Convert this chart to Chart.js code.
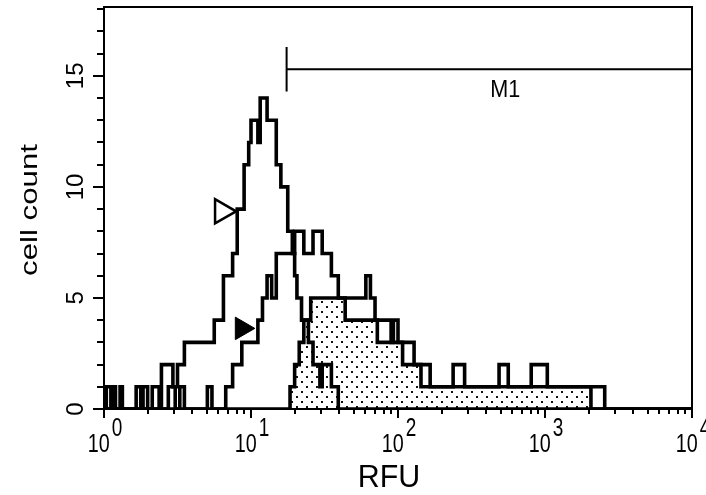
<!DOCTYPE html>
<html>
<head>
<meta charset="utf-8">
<script src="https://cdn.jsdelivr.net/npm/chart.js@4.4.1/dist/chart.umd.min.js"></script>
<style>
  html, body { margin: 0; padding: 0; background: #fff; }
  #wrap { width: 706px; height: 495px; }
</style>
</head>
<body>
<div id="wrap"><canvas id="histo" width="706" height="495"></canvas></div>
<script>
// log amp histograms, 256 channels over 4 decades (64 channels per decade)
// each step: count holds from that channel until the next one
const openCh     = [0, 1, 3, 4, 5, 7, 8, 10, 14, 16, 17, 19, 21, 24, 25, 30, 32, 35, 48, 52, 56, 58, 61, 63, 64, 67, 68, 71, 75, 77, 80, 82, 83, 84, 86, 89, 91, 94, 95, 99, 102, 256];
const openCount  = [0, 1, 0, 1, 0, 1, 0, 0, 1, 0, 1, 0, 1, 0, 2, 1, 2, 3, 4, 6, 7, 9, 11, 12, 13, 12, 14, 13, 11, 10, 8, 7, 6, 5, 4, 3, 2, 1, 2, 1, 0, 0];

const filledCh    = [0, 28, 31, 33, 35, 45, 47, 53, 56, 60, 67, 69, 71, 73, 75, 83, 87, 91, 95, 99, 102, 114, 116, 118, 125, 126, 128, 135, 142, 152, 157, 172, 176, 186, 193, 218, 256];
const filledCount = [0, 1, 0, 1, 0, 1, 0, 1, 2, 3, 4, 5, 6, 5, 7, 8, 7, 8, 7, 6, 5, 6, 5, 4, 3, 4, 3, 2, 1, 2, 1, 2, 1, 2, 1, 0, 0];

const dottedCh    = [0, 81, 83, 85, 87, 90, 105, 119, 130, 138, 212, 256];
const dottedCount = [0, 1, 2, 3, 4, 5, 4, 3, 2, 1, 0, 0];

// legend arrows sitting next to the curves
const openMarker   = { x: 51.4, y: 8.9 };
const filledMarker = { x: 60.0, y: 3.63 };

// M1 gate
const gateFrom = 79.5;
const gateTo = 256;
const gateLevel = 15.3;

// axes
const yMax = 18.1;
const yTickValues = [0, 1, 2, 3, 4, 5, 6, 7, 8, 9, 10, 11, 12, 13, 14, 15, 16, 17, 18];
const yLabelValues = [0, 5, 10, 15];
const xDecadeCh = [0, 64, 128, 192, 256];
const xDecadeExp = ['0', '1', '2', '3', '4'];
const minorOffsets = [19.3, 30.5, 38.5, 44.7, 49.8, 54.1, 57.8, 61.1]; // 64*log10(2..9)

const FONT = '"Liberation Sans", Arial, Helvetica, sans-serif';

function steps(ch, counts) {
    return ch.map((c, i) => ({ x: c, y: counts[i] }));
}

function dotPattern() {
    const c = document.createElement('canvas');
    c.width = 10; c.height = 10;
    const g = c.getContext('2d');
    g.fillStyle = '#111';
    g.fillRect(1, 1, 2, 2);
    g.fillRect(6, 6, 2, 2);
    return g.createPattern(c, 'repeat');
}

function txt(ctx, s, x, y, size, o) {
    o = o || {};
    ctx.save();
    ctx.translate(x, y);
    if (o.rot) ctx.rotate(o.rot);
    ctx.scale(o.sx || 1, 1);
    ctx.font = size + 'px ' + FONT;
    ctx.textAlign = o.align || 'center';
    ctx.textBaseline = 'alphabetic';
    ctx.fillStyle = '#000';
    ctx.fillText(s, 0, 0);
    ctx.restore();
}

const decor = {
    id: 'decor',
    afterDraw(chart) {
        const { ctx, chartArea: a } = chart;
        const x = chart.scales.x, y = chart.scales.y;
        ctx.save();
        ctx.strokeStyle = '#000';
        ctx.lineWidth = 2;
        ctx.strokeRect(a.left, a.top, a.right - a.left, a.bottom - a.top);

        // tick marks
        ctx.beginPath();
        y.ticks.forEach(t => {
            const py = Math.round(y.getPixelForValue(t.value));
            const len = yLabelValues.includes(t.value) ? 11 : 7;
            ctx.moveTo(a.left - len, py);
            ctx.lineTo(a.left, py);
        });
        x.ticks.forEach(t => {
            const px = Math.round(x.getPixelForValue(t.value));
            const len = xDecadeCh.includes(t.value) ? 9 : 5;
            ctx.moveTo(px, a.bottom);
            ctx.lineTo(px, a.bottom + len);
        });
        ctx.stroke();

        // y labels, turned
        yLabelValues.forEach(v => {
            txt(ctx, String(v), 83, y.getPixelForValue(v), 24, { rot: -Math.PI / 2 });
        });

        // x labels 10^n
        xDecadeCh.forEach((c, i) => {
            const px = x.getPixelForValue(c);
            const sx = 0.76;
            ctx.font = '26px ' + FONT;
            const wb = ctx.measureText('10').width * sx;
            ctx.font = '25px ' + FONT;
            const we = ctx.measureText(xDecadeExp[i]).width * sx;
            const start = px - (wb + 2 + we) / 2 + 1;
            txt(ctx, '10', start, 452, 26, { sx: sx, align: 'left' });
            txt(ctx, xDecadeExp[i], start + wb + 2, 436, 25, { sx: sx, align: 'left' });
        });

        // axis titles
        txt(ctx, 'cell count', 37, 210, 24, { rot: -Math.PI / 2, sx: 1.3 });
        txt(ctx, 'RFU', 389, 487, 31, { sx: 0.98 });

        // M1 gate
        const g1 = x.getPixelForValue(gateFrom), g2 = x.getPixelForValue(gateTo);
        const gy = y.getPixelForValue(gateLevel);
        ctx.beginPath();
        ctx.moveTo(g1, gy); ctx.lineTo(g2, gy);
        ctx.moveTo(g1, y.getPixelForValue(gateLevel + 1));
        ctx.lineTo(g1, y.getPixelForValue(gateLevel - 1));
        ctx.stroke();
        txt(ctx, 'M1', (g1 + g2) / 2 + 16, 97, 24, { sx: 0.9 });
        ctx.restore();
    }
};

const lineStyle = {
    stepped: true,
    borderColor: '#000',
    borderWidth: 3.6,
    borderJoinStyle: 'miter',
    pointRadius: 0,
    fill: false
};

new Chart(document.getElementById('histo'), {
    type: 'line',
    data: {
        datasets: [
            {
                label: 'open marker',
                data: [openMarker],
                showLine: false,
                pointStyle: 'triangle',
                pointRotation: 90,
                pointRadius: 14,
                pointBackgroundColor: '#fff',
                pointBorderColor: '#000',
                pointBorderWidth: 2.5
            },
            {
                label: 'filled marker',
                data: [filledMarker],
                showLine: false,
                pointStyle: 'triangle',
                pointRotation: 90,
                pointRadius: 13,
                pointBackgroundColor: '#000',
                pointBorderColor: '#000',
                pointBorderWidth: 1
            },
            Object.assign({ label: 'open', data: steps(openCh, openCount) }, lineStyle),
            Object.assign({ label: 'filled', data: steps(filledCh, filledCount) }, lineStyle),
            Object.assign({}, lineStyle, {
                label: 'dotted',
                data: steps(dottedCh, dottedCount),
                fill: 'origin',
                backgroundColor: dotPattern()
            })
        ]
    },
    options: {
        responsive: false,
        animation: false,
        layout: { autoPadding: false, padding: { left: 0, right: 14, top: 7, bottom: 0 } },
        plugins: { legend: { display: false }, tooltip: { enabled: false } },
        scales: {
            x: {
                type: 'linear',
                min: 0,
                max: 256,
                ticks: { display: false },
                grid: { display: false },
                border: { display: false },
                afterBuildTicks: s => {
                    const vals = xDecadeCh.slice();
                    xDecadeCh.slice(0, 4).forEach(d => minorOffsets.forEach(m => vals.push(d + m)));
                    s.ticks = vals.map(v => ({ value: v }));
                },
                afterFit: s => { s.height = 86; }
            },
            y: {
                min: 0,
                max: yMax,
                ticks: { display: false },
                grid: { display: false },
                border: { display: false },
                afterBuildTicks: s => { s.ticks = yTickValues.map(v => ({ value: v })); },
                afterFit: s => { s.width = 104; }
            }
        }
    },
    plugins: [decor]
});
</script>
</body>
</html>
